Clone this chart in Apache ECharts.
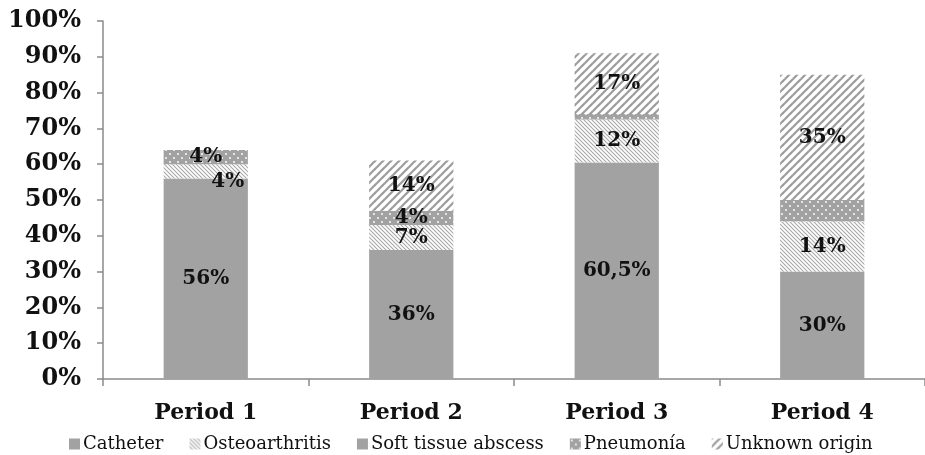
<!DOCTYPE html>
<html>
<head>
<meta charset="utf-8">
<title>Infection source by period</title>
<script src="https://cdn.jsdelivr.net/npm/echarts@6/dist/echarts.min.js"></script>
<style>
  html, body { margin: 0; padding: 0; background: #fff; }
  #chart { width: 925px; height: 455px; }
</style>
</head>
<body>
<div id="chart"></div>
<script>
// Categories and percentage values per source of infection
const periods = ['Period 1', 'Period 2', 'Period 3', 'Period 4'];
const catheter = [56, 36, 60.5, 30];
const osteoarthritis = [4, 7, 12, 14];
const softTissueAbscess = [0, 0, 0, 0];
const pneumonia = [4, 4, 1.5, 6];
const unknownOrigin = [0, 14, 17, 35];
const yTicks = [0, 10, 20, 30, 40, 50, 60, 70, 80, 90, 100];

// Which segments carry a value label
const pneumoniaLabeled = [true, true, false, false];

const GRAY = '#a2a2a2';
const FONT = '"DejaVu Serif", serif';

function makeTile(w, h, draw) {
  const c = document.createElement('canvas');
  c.width = w; c.height = h;
  draw(c.getContext('2d'), w, h);
  return { image: c, repeat: 'repeat' };
}

// Fine "\\" hatch on white
const hatchFine = makeTile(4, 4, (g, w, h) => {
  g.fillStyle = '#ffffff'; g.fillRect(0, 0, w, h);
  g.strokeStyle = '#a8a8a8'; g.lineWidth = 1.1;
  for (let k = -1; k <= 1; k++) {
    g.beginPath(); g.moveTo(k * w - 1, -1); g.lineTo(k * w + w + 1, h + 1); g.stroke();
  }
});

// Gray with white dots
const dotted = makeTile(8, 8, (g, w, h) => {
  g.fillStyle = GRAY; g.fillRect(0, 0, w, h);
  g.fillStyle = '#e4e4e4';
  g.fillRect(1, 1, 2, 2);
  g.fillRect(5, 5, 2, 2);
});

// Wide "//" stripes on white
const stripesWide = makeTile(8, 8, (g, w, h) => {
  g.fillStyle = '#ffffff'; g.fillRect(0, 0, w, h);
  g.strokeStyle = '#9c9c9c'; g.lineWidth = 2.2;
  for (let k = -1; k <= 1; k++) {
    g.beginPath(); g.moveTo(k * w - 1, h + 1); g.lineTo(k * w + w + 1, -1); g.stroke();
  }
});

function fmt(v) {
  return String(v).replace('.', ',') + '%';
}

const labelStyle = {
  show: true,
  position: 'inside',
  color: '#111',
  fontFamily: FONT,
  fontWeight: 'bold',
  fontSize: 20,
  formatter: p => fmt(p.value)
};

function seriesData(values, labeledFlags, offsets) {
  return values.map((v, i) => {
    const item = { value: v };
    if (v === 0 || (labeledFlags && !labeledFlags[i])) {
      item.label = { show: false };
    } else if (offsets && offsets[i]) {
      item.label = { offset: offsets[i] };
    }
    return item;
  });
}

function bar(name, values, fill, labeledFlags, offsets) {
  return {
    name: name,
    type: 'bar',
    stack: 'total',
    barWidth: '41%',
    itemStyle: { color: fill },
    label: labelStyle,
    data: seriesData(values, labeledFlags, offsets)
  };
}

const chart = echarts.init(document.getElementById('chart'), null, { renderer: 'canvas' });

chart.setOption({
  animation: false,
  grid: { left: 103, right: -6, top: 21, bottom: 76, containLabel: false },
  legend: {
    top: 430,
    left: 64,
    itemWidth: 11,
    itemHeight: 11,
    itemGap: 26,
    icon: 'rect',
    textStyle: { fontFamily: FONT, fontSize: 18, color: '#111', padding: [0, 0, 0, -2] },
    data: ['Catheter', 'Osteoarthritis', 'Soft tissue abscess', 'Pneumonía', 'Unknown origin']
  },
  xAxis: {
    type: 'category',
    data: periods,
    axisLine: { lineStyle: { color: '#8a8a8a', width: 1.5 } },
    axisTick: { show: true, length: 7, lineStyle: { color: '#8a8a8a', width: 1.5 } },
    axisLabel: {
      margin: 23,
      color: '#111',
      fontFamily: FONT,
      fontWeight: 'bold',
      fontSize: 22
    }
  },
  yAxis: {
    type: 'value',
    min: yTicks[0],
    max: yTicks[yTicks.length - 1],
    interval: 10,
    splitLine: { show: false },
    axisLine: { show: true, lineStyle: { color: '#8a8a8a', width: 1.5 } },
    axisTick: { show: true, length: 6, lineStyle: { color: '#8a8a8a', width: 1.5 } },
    axisLabel: {
      margin: 22,
      color: '#111',
      fontFamily: FONT,
      fontWeight: 'bold',
      fontSize: 24,
      formatter: v => v + '%'
    }
  },
  series: [
    bar('Catheter', catheter, GRAY),
    bar('Osteoarthritis', osteoarthritis, hatchFine, null, [[22, 10], null, null, null]),
    bar('Soft tissue abscess', softTissueAbscess, GRAY),
    bar('Pneumonía', pneumonia, dotted, pneumoniaLabeled),
    bar('Unknown origin', unknownOrigin, stripesWide)
  ]
});
</script>
</body>
</html>
